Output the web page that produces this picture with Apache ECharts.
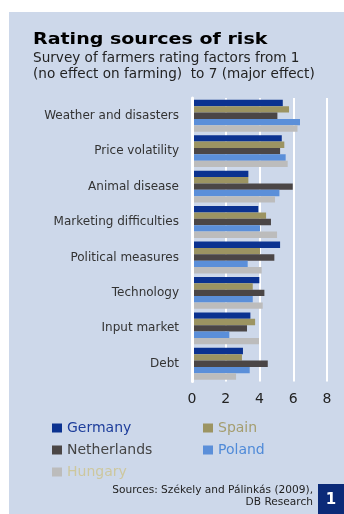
<!DOCTYPE html>
<html>
<head>
<meta charset="utf-8">
<script src="https://cdn.jsdelivr.net/npm/echarts@6/dist/echarts.min.js"></script>
<style>
html,body{margin:0;padding:0;background:#fff;}
#chart{width:344px;height:514px;}
</style>
</head>
<body>
<div id="chart"></div>
<script>
var categories = ['Weather and disasters','Price volatility','Animal disease','Marketing difficulties','Political measures','Technology','Input market','Debt'];
var seriesNames = ['Germany','Spain','Netherlands','Poland','Hungary'];
var germany     = [5.38,5.32,3.34,3.93,5.22,3.99,3.46,3.02];
var spain       = [5.75,5.47,3.34,4.39,4.03,3.60,3.74,2.96];
var netherlands = [5.06,5.22,5.97,4.68,4.88,4.29,3.26,4.49];
var poland      = [6.40,5.55,5.18,4.03,3.30,3.60,2.21,3.42];
var hungary     = [6.25,5.67,4.92,5.04,4.13,4.19,3.97,2.61];
var xTicks = [0,2,4,6,8];

var values = [germany, spain, netherlands, poland, hungary];
var barColors = ['#0b3290','#9c9462','#4b4646','#5b8fd9','#bcbcbc'];
var legendTextColors = ['#1d3d9b','#a49d6e','#444444','#4f8ad8','#cdc79e'];
var legendPos = [[52,421],[203,421],[52,443],[203,443],[52,465]];
var FONT = '"DejaVu Sans", sans-serif';

var chart = echarts.init(document.getElementById('chart'), null, {renderer:'canvas'});

var series = seriesNames.map(function(n,i){
  return {
    name: n, type: 'bar', data: values[i],
    itemStyle: {color: barColors[i]},
    barGap: '0%', barCategoryGap: '10%',
    animation: false
  };
});

var legends = seriesNames.map(function(n,i){
  return {
    data: [n], left: legendPos[i][0], top: legendPos[i][1],
    padding: 0, icon: 'rect', itemWidth: 10, itemHeight: 9,
    textStyle: {color: legendTextColors[i], fontSize: 14, fontFamily: FONT},
    selectedMode: false
  };
});

chart.setOption({
  backgroundColor: '#ffffff',
  animation: false,
  textStyle: {fontFamily: FONT},
  graphic: [
    {type:'rect', shape:{x:9,y:12,width:335,height:502}, style:{fill:'#cdd8ea'}, z:-10},
    {type:'text', x:33, y:40, scaleX:1.19, style:{text:'Rating sources of risk', font:'bold 16px "DejaVu Sans"', fill:'#000', verticalAlign:'middle'}},
    {type:'text', x:33, y:58, style:{text:'Survey of farmers rating factors from 1', font:'13.6px "DejaVu Sans"', fill:'#222', verticalAlign:'middle'}},
    {type:'text', x:33, y:74, style:{text:'(no effect on farming)  to 7 (major effect)', font:'13.6px "DejaVu Sans"', fill:'#222', verticalAlign:'middle'}},
    {type:'text', x:313, y:490, style:{text:'Sources: Székely and Pálinkás (2009),', font:'10.6px "DejaVu Sans"', fill:'#222', align:'right', verticalAlign:'middle'}},
    {type:'text', x:313, y:502, style:{text:'DB Research', font:'10.6px "DejaVu Sans"', fill:'#222', align:'right', verticalAlign:'middle'}},
    {type:'rect', shape:{x:318,y:484,width:26,height:30}, style:{fill:'#0b2a78'}},
    {type:'text', x:331, y:500, style:{text:'1', font:'bold 15px "DejaVu Sans"', fill:'#fff', align:'center', verticalAlign:'middle'}}
  ],
  legend: legends,
  grid: {left:192, right:17, top:98, bottom:132.5, containLabel:false},
  xAxis: {
    type:'value', min:0, max:8, interval:2,
    axisLine:{show:false}, axisTick:{show:false},
    splitLine:{show:true, lineStyle:{color:'#ffffff', width:2}},
    axisLabel:{color:'#222', fontSize:14, margin:11, fontFamily:FONT,
      formatter:function(v){ return xTicks.indexOf(v) >= 0 ? String(v) : ''; }}
  },
  yAxis: {
    type:'category', data: categories, inverse:true, z:5,
    axisLine:{show:true, lineStyle:{color:'#ffffff', width:3}},
    axisTick:{show:false},
    axisLabel:{color:'#333', fontSize:12, margin:13, fontFamily:FONT}
  },
  series: series
});
</script>
</body>
</html>
